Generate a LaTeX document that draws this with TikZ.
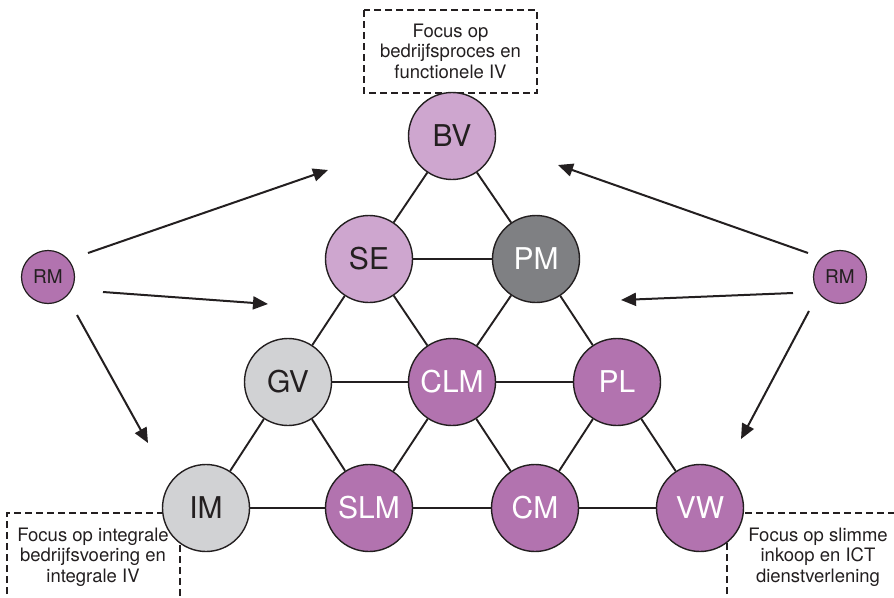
\documentclass[tikz,border=0pt]{standalone}
\usepackage{fontspec}
\setmainfont{TeX Gyre Heros}
\usetikzlibrary{arrows.meta}
\definecolor{ink}{HTML}{231F20}
\definecolor{lilac}{HTML}{CEA6CF}
\definecolor{plum}{HTML}{B273AF}
\definecolor{slate}{HTML}{7F8083}
\definecolor{silver}{HTML}{D1D2D4}
\tikzset{
  unit/.style={circle, draw=ink, line width=1.4pt, minimum size=87pt, inner sep=0pt, font=\fontsize{30}{30}\selectfont},
  lightunit/.style={unit, fill=lilac, text=ink},
  darkunit/.style={unit, fill=plum, text=white},
  greyunit/.style={unit, fill=silver, text=ink},
  pmunit/.style={unit, fill=slate, text=white},
  rmunit/.style={circle, draw=ink, line width=1.2pt, minimum size=53pt, inner sep=0pt, fill=plum, text=ink, font=\fontsize{19}{19}\selectfont},
  link/.style={draw=ink, line width=1.9pt},
  push/.style={draw=ink, line width=2pt, -{Triangle[length=15pt, width=13pt]}},
  focusframe/.style={draw=ink, line width=1.3pt, dash pattern=on 7pt off 4pt},
  focustext/.style={align=center, text=ink, font=\fontsize{18.5}{20.5}\selectfont},
}
\begin{document}
\begin{tikzpicture}[x=1pt, y=-1pt]
\useasboundingbox (0,0) rectangle (894,597);

% dashed focus frames
\draw[focusframe] (364,10) rectangle (537,93);
\node[focustext] (ftop) at (450.5,51) {Focus op\\bedrijfsproces en\\functionele IV};
\draw[focusframe] (7,605) -- (7,513) -- (180,513) -- (180,605);
\node[focustext] (fleft) at (93,557) {Focus op integrale\\bedrijfsvoering en\\integrale IV};
\draw[focusframe] (727,605) -- (727,513) -- (900,513);
\node[focustext] (fright) at (818,557) {Focus op slimme\\inkoop en ICT\\dienstverlening};

% the triangle of units
\node[lightunit] (BV)  at (452,136) {BV};
\node[lightunit] (SE)  at (369,259) {SE};
\node[pmunit]    (PM)  at (536,259) {PM};
\node[greyunit]  (GV)  at (288,382) {GV};
\node[darkunit]  (CLM) at (452,382) {CLM};
\node[darkunit]  (PL)  at (617,382) {PL};
\node[greyunit]  (IM)  at (206,508) {IM};
\node[darkunit]  (SLM) at (369,508) {SLM};
\node[darkunit]  (CM)  at (535,508) {CM};
\node[darkunit]  (VW)  at (700,508) {VW};

\foreach \a/\b in {BV/SE, BV/PM, SE/PM, SE/GV, SE/CLM, PM/CLM, PM/PL,
                   GV/CLM, CLM/PL, GV/IM, GV/SLM, CLM/SLM, CLM/CM, PL/CM, PL/VW,
                   IM/SLM, SLM/CM, CM/VW}
  \draw[link] (\a) -- (\b);

% RM units and their influence
\node[rmunit] (RMl) at (48,277) {RM};
\node[rmunit] (RMr) at (840,277) {RM};

\coordinate (l1s) at (88,253);  \coordinate (l1e) at (328,170);
\coordinate (l2s) at (103,292); \coordinate (l2e) at (268,304);
\coordinate (l3s) at (77,315);  \coordinate (l3e) at (148,443);
\coordinate (r1s) at (808,253); \coordinate (r1e) at (558,165);
\coordinate (r2s) at (793,293); \coordinate (r2e) at (621,300);
\coordinate (r3s) at (809,311); \coordinate (r3e) at (741,439);

\foreach \s/\e in {l1s/l1e, l2s/l2e, l3s/l3e, r1s/r1e, r2s/r2e, r3s/r3e}
  \draw[push] (\s) -- (\e);
\end{tikzpicture}
\end{document}
